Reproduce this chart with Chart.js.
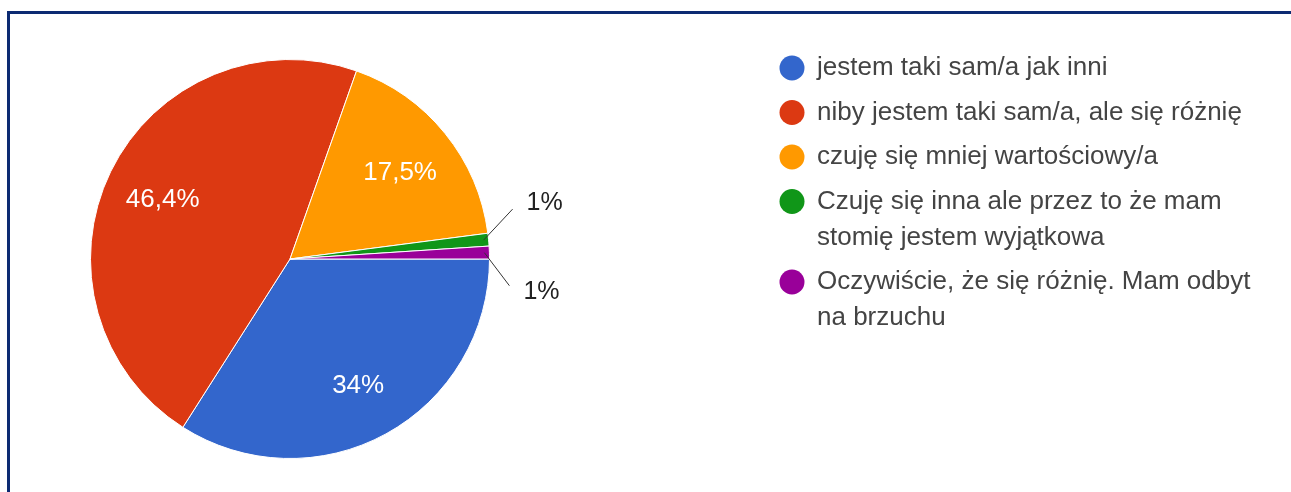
<!DOCTYPE html>
<html>
<head>
<meta charset="utf-8">
<script src="https://cdn.jsdelivr.net/npm/chart.js@4"></script>
<style>
  html, body { margin: 0; padding: 0; background: #fff; }
  #wrap { position: relative; width: 1291px; height: 492px; overflow: hidden; }
  #frame {
    position: absolute; left: 7px; top: 11px; right: -10px; bottom: -10px;
    border-left: 3px solid #0c2a72; border-top: 3px solid #0c2a72;
  }
  #chart { position: absolute; left: 0; top: 0; }
</style>
</head>
<body>
<div id="wrap">
  <div id="frame"></div>
  <canvas id="chart" width="1291" height="492"></canvas>
</div>
<script>
// Odpowiedzi (liczba osób)
const categories = [
  'jestem taki sam/a jak inni',
  'niby jestem taki sam/a, ale się różnię',
  'czuję się mniej wartościowy/a',
  ['Czuję się inna ale przez to że mam', 'stomię jestem wyjątkowa'],
  ['Oczywiście, że się różnię. Mam odbyt', 'na brzuchu']
];
const responses = [33, 45, 17, 1, 1];
const sliceColors = ['#3366cc', '#dc3912', '#ff9900', '#109618', '#990099'];

const FONT = "'Liberation Sans', Arial, sans-serif";

function formatPct(value, total) {
  const p = Math.round(value / total * 1000) / 10;
  return p.toString().replace('.', ',') + '%';
}

// Etykiety procentowe: w środku dużych wycinków, z linią dla małych
const sliceLabels = {
  id: 'sliceLabels',
  afterDatasetsDraw(chart) {
    const ctx = chart.ctx;
    const data = chart.data.datasets[0].data;
    const total = data.reduce((a, b) => a + b, 0);
    const arcs = chart.getDatasetMeta(0).data;
    let smallIdx = 0;
    ctx.save();
    ctx.textBaseline = 'middle';
    arcs.forEach((arc, i) => {
      const { x, y, startAngle, endAngle, outerRadius } = arc.getProps(['x', 'y', 'startAngle', 'endAngle', 'outerRadius'], true);
      const mid = (startAngle + endAngle) / 2;
      const text = formatPct(data[i], total);
      if (data[i] / total >= 0.05) {
        const r = outerRadius * 0.71;
        ctx.fillStyle = '#ffffff';
        ctx.font = '26px ' + FONT;
        ctx.textAlign = 'center';
        ctx.fillText(text, x + Math.cos(mid) * r, y + Math.sin(mid) * r + 3);
      } else {
        const sx = x + Math.cos(mid) * (outerRadius - 5);
        const sy = y + Math.sin(mid) * (outerRadius - 5);
        const up = smallIdx === 0;
        const ex = sx + (up ? 29 : 25);
        const ey = sy + (up ? -31 : 33);
        ctx.strokeStyle = '#333333';
        ctx.lineWidth = 1;
        ctx.beginPath();
        ctx.moveTo(sx, sy);
        ctx.lineTo(ex, ey);
        ctx.stroke();
        ctx.fillStyle = '#222222';
        ctx.font = '25px ' + FONT;
        ctx.textAlign = 'left';
        ctx.fillText(text, ex + 14, ey + (up ? -6 : 6));
        smallIdx++;
      }
    });
    ctx.restore();
  }
};

// Legenda po prawej stronie, z łamaniem długich etykiet
const sideLegend = {
  id: 'sideLegend',
  afterDraw(chart) {
    const ctx = chart.ctx;
    const colors = chart.data.datasets[0].backgroundColor;
    const left = 792, textX = 817;
    let y = 68;
    ctx.save();
    ctx.font = '26px ' + FONT;
    ctx.textBaseline = 'middle';
    ctx.textAlign = 'left';
    chart.data.labels.forEach((label, i) => {
      const lines = Array.isArray(label) ? label : [label];
      ctx.fillStyle = colors[i];
      ctx.beginPath();
      ctx.arc(left, y, 12.5, 0, Math.PI * 2);
      ctx.fill();
      ctx.fillStyle = '#444444';
      lines.forEach((line, j) => {
        ctx.fillText(line, textX, y + j * 36);
      });
      y += (lines.length - 1) * 36 + 44.5;
    });
    ctx.restore();
  }
};

new Chart(document.getElementById('chart'), {
  type: 'pie',
  data: {
    labels: categories,
    datasets: [{
      data: responses,
      backgroundColor: sliceColors,
      borderColor: '#ffffff',
      borderWidth: 1
    }]
  },
  options: {
    responsive: false,
    animation: false,
    rotation: 90,
    layout: { padding: { left: 90, right: 801, top: 57, bottom: 31 } },
    plugins: {
      legend: { display: false },
      tooltip: { enabled: false }
    }
  },
  plugins: [sliceLabels, sideLegend]
});
</script>
</body>
</html>
